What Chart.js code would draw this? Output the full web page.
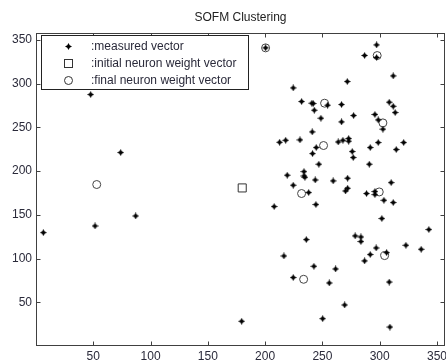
<!DOCTYPE html>
<html>
<head>
<meta charset="utf-8">
<script src="https://cdn.jsdelivr.net/npm/chart.js@4/dist/chart.umd.min.js"></script>
<style>
html,body{margin:0;padding:0;background:#fff;}
</style>
</head>
<body>
<canvas id="c" width="446" height="361"></canvas>
<script>
const measuredX = [47.7,73.9,51.5,87,6.4,200.4,179.5,297.3,286.8,297.3,311.8,271.7,224.5,231.8,240.8,242,242.9,254.5,266.7,248.7,266.7,277.2,295.8,308.3,311.8,313.5,298.7,302.8,212.6,217.9,230.4,241.1,263.8,267.9,272.9,272.9,298.7,320.9,314.4,291.7,244.6,241.4,276,276.9,246.9,290.9,219.3,233.9,233.9,234.7,243.7,259.4,272,224.5,238,272,270.2,288.5,295.8,295.8,310,303.7,311.8,244.3,207.9,301.9,342.9,235.9,278.6,283.6,283.6,296.9,322.9,336.2,216.4,291.7,286.8,306,242.6,261.5,224.5,256,308.3,269.4,250.2,308.9];
const measuredY = [287.6,221.3,137.3,148.7,129.7,341,28.3,344.4,332.3,330,308.9,302.5,295.2,279.6,277.7,277.3,269.7,275.4,276.2,260.5,256.3,263.6,264.8,278.8,274.2,267,258.6,248,233,235.3,235.7,244.9,233.4,235.3,237.3,234.2,232.7,232.7,224.7,227,227,220.1,222.4,215.6,207.9,207.9,195.3,199.5,194.5,193,189.9,188.8,191.9,183.9,175.5,180.4,177.3,174.4,176.7,173.2,186.9,166.7,164.1,161.8,159.5,145.8,133.2,121.7,125.9,124.7,119.5,112.1,115.2,110.6,103,104.6,97.3,106.8,91.2,88.1,78.3,72.1,73.2,46.9,31.3,21.7];
const initialX = [180];
const initialY = [180.8];
const finalX = [200.4,297.8,251.9,302.8,251,53,231.8,299.6,304.3,233.6];
const finalY = [341,332.2,277.7,255.2,229.3,184.7,174.4,176.2,103.4,76.3];
const xTicks = [50,100,150,200,250,300,350];
const yTicks = [50,100,150,200,250,300,350];
const seriesNames = [':measured vector', ':initial neuron weight vector', ':final neuron weight vector'];
const titleText = 'SOFM Clustering';

const toPts = (xs, ys) => xs.map((v, i) => ({x: v, y: ys[i]}));

function makeStar(){
  const cv = document.createElement('canvas');
  cv.width = 7; cv.height = 7;
  const g = cv.getContext('2d');
  g.fillStyle = '#000';
  g.beginPath();
  g.moveTo(3.5,0); g.lineTo(4.7,2.3); g.lineTo(7,3.5); g.lineTo(4.7,4.7);
  g.lineTo(3.5,7); g.lineTo(2.3,4.7); g.lineTo(0,3.5); g.lineTo(2.3,2.3);
  g.closePath(); g.fill();
  return cv;
}
const star = makeStar();

const FONT = '"Liberation Sans", Arial, sans-serif';
const TXT = '#2a2a3a';
const AX = '#404040';

const frame = {
  id: 'frame',
  afterDraw(chart){
    const {ctx, chartArea: a, scales: {x, y}} = chart;
    ctx.save();
    ctx.strokeStyle = AX; ctx.lineWidth = 1;
    const L = Math.round(a.left)+0.5, R = Math.round(a.right)-0.5, T = Math.round(a.top)+0.5, B = Math.round(a.bottom)-0.5;
    ctx.strokeRect(L, T, R-L, B-T);
    ctx.beginPath();
    x.ticks.forEach(t => {
      const px = Math.round(x.getPixelForValue(t.value)) + 0.5;
      ctx.moveTo(px, B); ctx.lineTo(px, B-4);
      ctx.moveTo(px, T); ctx.lineTo(px, T+4);
    });
    y.ticks.forEach(t => {
      const py = Math.round(y.getPixelForValue(t.value)) + 0.5;
      ctx.moveTo(L, py); ctx.lineTo(L+4, py);
      ctx.moveTo(R, py); ctx.lineTo(R-4, py);
    });
    ctx.stroke();
    const lx = 41.5, ly = 35.5, lw = 207, lh = 54;
    ctx.fillStyle = '#fff';
    ctx.fillRect(lx, ly, lw, lh);
    ctx.strokeStyle = '#222';
    ctx.strokeRect(lx, ly, lw, lh);
    const rows = [46.5, 63.5, 80.5];
    const mx = 68.5;
    ctx.drawImage(star, mx-3.5, rows[0]-3.5);
    ctx.strokeStyle = '#333';
    ctx.strokeRect(mx-4, rows[1]-4, 8, 8);
    ctx.beginPath(); ctx.arc(mx, rows[2], 4, 0, Math.PI*2); ctx.stroke();
    ctx.fillStyle = TXT;
    ctx.font = '12px ' + FONT;
    ctx.textBaseline = 'middle';
    ctx.textAlign = 'left';
    seriesNames.forEach((n, i) => ctx.fillText(n, 91, rows[i]));
    ctx.restore();
  }
};

new Chart(document.getElementById('c'), {
  type: 'scatter',
  data: {
    datasets: [
      { label: seriesNames[0], data: toPts(measuredX, measuredY), pointStyle: star, pointRadius: 3.5, pointHoverRadius: 3.5 },
      { label: seriesNames[1], data: toPts(initialX, initialY), pointStyle: 'rect', pointRadius: 5.7, backgroundColor: 'rgba(0,0,0,0)', borderColor: '#333', borderWidth: 1 },
      { label: seriesNames[2], data: toPts(finalX, finalY), pointStyle: 'circle', pointRadius: 4, backgroundColor: 'rgba(0,0,0,0)', borderColor: '#444', borderWidth: 1 }
    ]
  },
  options: {
    responsive: false,
    animation: false,
    events: [],
    layout: { autoPadding: false, padding: { left: 0, right: 1, top: 0, bottom: 0 } },
    plugins: {
      legend: { display: false },
      tooltip: { enabled: false },
      title: { display: true, fullSize: false, text: titleText, color: '#222', font: { family: FONT, size: 12, weight: 'normal' }, padding: { top: 10, bottom: 8.6 } }
    },
    scales: {
      x: {
        type: 'linear', min: 0, max: 357,
        grid: { display: false, drawTicks: false },
        border: { display: false },
        afterBuildTicks: s => { s.ticks = xTicks.map(v => ({value: v})); },
        afterFit: s => { s.height = 15; s.paddingLeft = 0; s.paddingRight = 0; },
        ticks: { autoSkip: false, maxRotation: 0, padding: 3, color: TXT, font: { family: FONT, size: 12 } }
      },
      y: {
        type: 'linear', min: 0, max: 358,
        grid: { display: false, drawTicks: false },
        border: { display: false },
        afterBuildTicks: s => { s.ticks = yTicks.map(v => ({value: v})); },
        afterFit: s => { s.width = 36; s.paddingTop = 0; s.paddingBottom = 0; },
        ticks: { autoSkip: false, padding: 4, color: TXT, font: { family: FONT, size: 12 } }
      }
    }
  },
  plugins: [frame]
});
</script>
</body>
</html>
